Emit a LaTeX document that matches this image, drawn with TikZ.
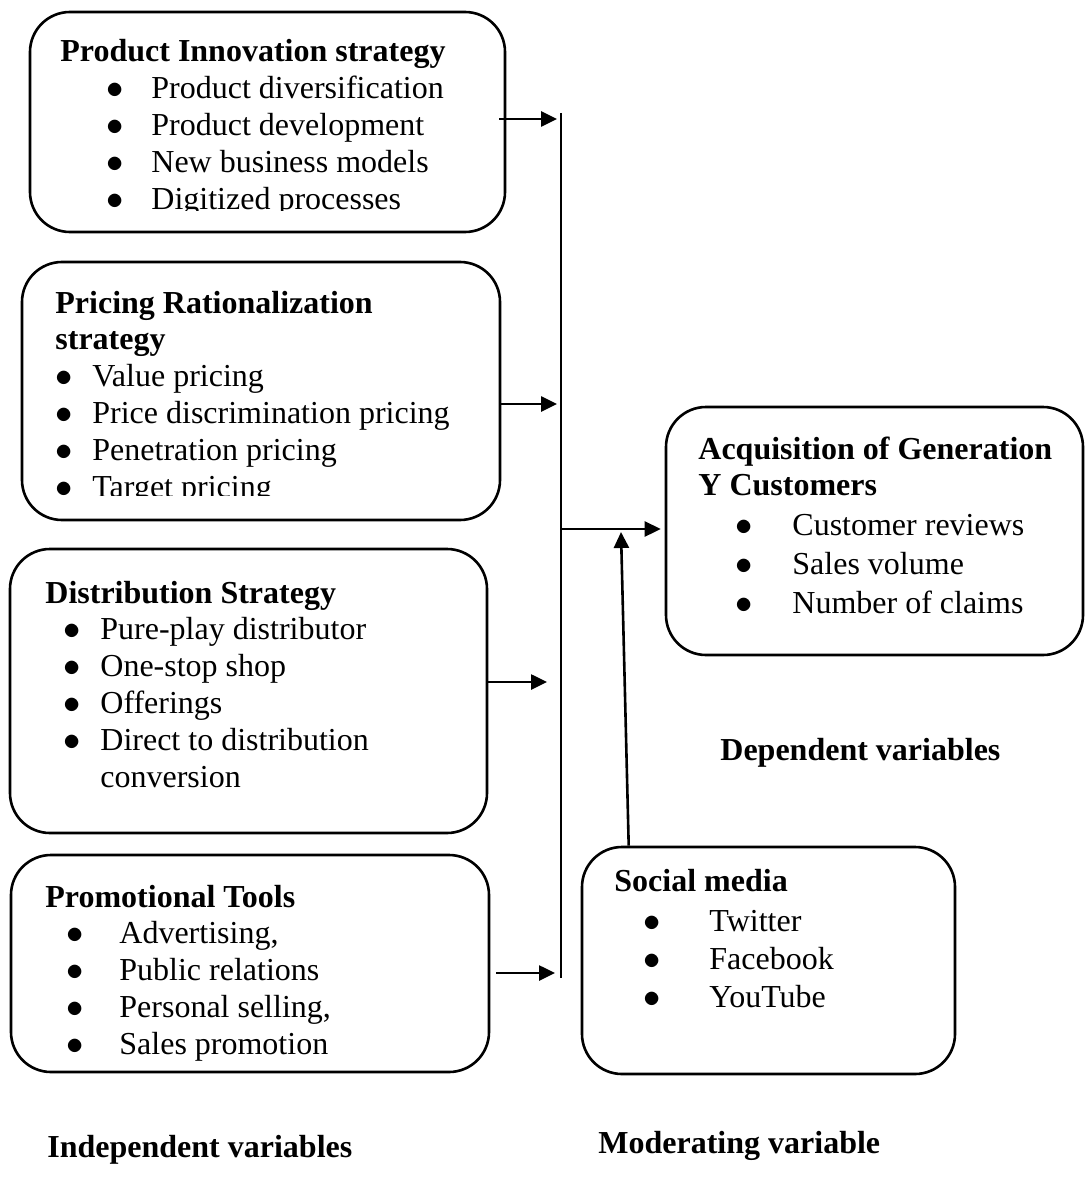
\documentclass[tikz,border=0pt]{standalone}
\usepackage{fontspec}
\setmainfont{Liberation Serif}
\usetikzlibrary{arrows.meta,positioning}

\tikzset{
  varbox/.style={draw,line width=1.3pt,rounded corners=20pt,inner sep=0pt},
  vartext/.style={anchor=base west,inner sep=0pt,font=\fontsize{16}{18.4}\selectfont},
  caption/.style={anchor=base west,inner sep=0pt,font=\fontsize{16}{18.4}\selectfont\bfseries},
  link/.style={line width=1.3pt,-{Triangle[length=8pt,width=7.5pt]}},
}
% bullet item: indent, bullet width, text
\newcommand{\itm}[3]{\hspace*{#1}\makebox[#2][l]{$\bullet$}#3}

\begin{document}
\begin{tikzpicture}[x=0.5pt,y=-0.5pt]
\useasboundingbox (0,0) rectangle (1086,1182);
% boxes
\node (pis)    at (267.5,122) [varbox,minimum width=237.5pt,minimum height=110pt] {};
\node (prs)    at (261,391)   [varbox,minimum width=239pt,minimum height=129pt] {};
\node (dist)   at (248.5,691) [varbox,minimum width=238.5pt,minimum height=142pt] {};
\node (promo)  at (250,963.5) [varbox,minimum width=239pt,minimum height=108.5pt] {};
\node (acq)    at (874.5,531) [varbox,minimum width=208.5pt,minimum height=124pt] {};
\node (social) at (768.5,960.5) [varbox,minimum width=186.5pt,minimum height=113.5pt] {};
% box contents (last lines of the two top boxes are cut off)
\begin{scope}
\clip (0,0) rectangle (1086,211);
\node (pistext) at (60,62) [vartext] {\begin{tabular}[t]{@{}l@{}}
  \textbf{Product Innovation strategy}\\
  \itm{23pt}{22.5pt}{Product diversification}\\
  \itm{23pt}{22.5pt}{Product development}\\
  \itm{23pt}{22.5pt}{New business models}\\
  \itm{23pt}{22.5pt}{Digitized processes}
\end{tabular}};
\end{scope}
\begin{scope}
\clip (0,240) rectangle (1086,495);
\node (prstext) at (55,313) [vartext] {\begin{tabular}[t]{@{}l@{}}
  \textbf{Pricing Rationalization}\\
  \textbf{strategy}\\
  \itm{0pt}{18.5pt}{Value pricing}\\
  \itm{0pt}{18.5pt}{Price discrimination pricing}\\
  \itm{0pt}{18.5pt}{Penetration pricing}\\
  \itm{0pt}{18.5pt}{Target pricing}
\end{tabular}};
\end{scope}
\node (disttext) at (45,603) [vartext] {\begin{tabular}[t]{@{}l@{}}
  \textbf{Distribution Strategy}\\
  \itm{9pt}{18.5pt}{Pure-play distributor}\\
  \itm{9pt}{18.5pt}{One-stop shop}\\
  \itm{9pt}{18.5pt}{Offerings}\\
  \itm{9pt}{18.5pt}{Direct to distribution}\\
  \hspace*{27.5pt}conversion
\end{tabular}};
\node (promotext) at (45,907) [vartext] {\begin{tabular}[t]{@{}l@{}}
  \textbf{Promotional Tools}\\
  \itm{10.5pt}{26.5pt}{Advertising,}\\
  \itm{10.5pt}{26.5pt}{Public relations}\\
  \itm{10.5pt}{26.5pt}{Personal selling,}\\
  \itm{10.5pt}{26.5pt}{Sales promotion}
\end{tabular}};
\node (acqtext) at (698,459) [vartext] {\begin{tabular}[t]{@{}l@{}}
  \textbf{Acquisition of Generation}\\
  \textbf{Y Customers}\\[1.5pt]
  \itm{18.5pt}{28.5pt}{Customer reviews}\\[1pt]
  \itm{18.5pt}{28.5pt}{Sales volume}\\[1pt]
  \itm{18.5pt}{28.5pt}{Number of claims}
\end{tabular}};
\node (socialtext) at (614,891) [vartext] {\begin{tabular}[t]{@{}l@{}}
  \textbf{Social media}\\[2pt]
  \itm{14.5pt}{33pt}{Twitter}\\[0.6pt]
  \itm{14.5pt}{33pt}{Facebook}\\[0.6pt]
  \itm{14.5pt}{33pt}{YouTube}
\end{tabular}};
% captions
\node (indep) at (47,1157)  [caption] {Independent variables};
\node (moder) at (598,1153) [caption] {Moderating variable};
\node (dep)   at (720,760)  [caption] {Dependent variables};
% joining line and arrows
\coordinate (top) at (561,113);
\coordinate (bot) at (561,978);
\coordinate (hub) at (561,529);
\coordinate (in1) at (557,119);
\coordinate (in2) at (557,404);
\coordinate (in3) at (547,682);
\coordinate (in4) at (555,973);
\coordinate (mtip) at (621,532);
\draw [line width=0.7pt] (top) -- (bot);
\draw [link,shorten <=-3.5pt] (pis.east |- in1) -- (in1);
\draw [link,shorten <=-1pt] (prs.east |- in2) -- (in2);
\draw [link] (dist.east |- in3) -- (in3);
\draw [link,shorten <=3pt] (promo.east |- in4) -- (in4);
\draw [link,shorten >=2pt] (hub) -- (hub -| acq.west);
\draw [link] ([xshift=24pt]social.north west) -- (mtip);
\end{tikzpicture}
\end{document}
